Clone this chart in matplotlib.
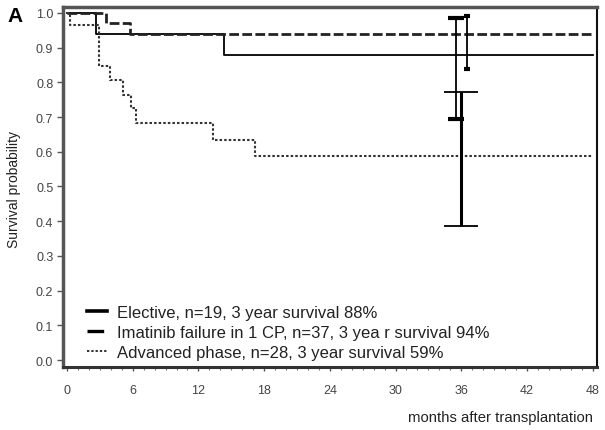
import matplotlib
matplotlib.use("Agg")
import matplotlib.pyplot as plt
from matplotlib.ticker import MultipleLocator
from matplotlib.lines import Line2D

plt.rcParams['font.family'] = ['Liberation Sans', 'DejaVu Sans']

# ---- data ----
groups = ["Elective, n=19, 3 year survival 88%",
          "Imatinib failure in 1 CP, n=37, 3 yea r survival 94%",
          "Advanced phase, n=28, 3 year survival 59%"]

elective_t = [0, 2.65, 14.3, 48]
elective_s = [1.0, 0.94, 0.88, 0.88]

imatinib_t = [0, 3.6, 5.75, 48]
imatinib_s = [1.0, 0.97, 0.94, 0.94]

advanced_t = [0, 0.3, 2.9, 3.9, 5.1, 5.8, 6.3, 13.3, 17.2, 48]
advanced_s = [1.0, 0.965, 0.848, 0.808, 0.764, 0.726, 0.683, 0.635, 0.588, 0.588]

# 3-year survival with confidence intervals
ci_x = [35.5, 36.5, 36.0]
ci_center = [0.88, 0.94, 0.59]
ci_low = [0.693, 0.838, 0.386]
ci_high = [0.985, 0.99, 0.773]

x_ticks = [0, 6, 12, 18, 24, 30, 36, 42, 48]
y_ticks = [0.0, 0.1, 0.2, 0.3, 0.4, 0.5, 0.6, 0.7, 0.8, 0.9, 1.0]

# ---- figure ----
fig = plt.figure(figsize=(6.05, 4.31), dpi=100)
ax = fig.add_axes([63/605, 1-368/431, (597-63)/605, (368-8)/431])

l1, = ax.step(elective_t, elective_s, where='post', color='black', lw=1.3)
l2, = ax.step(imatinib_t, imatinib_s, where='post', color='#222222', lw=2.0,
              linestyle=(0, (3.5, 1.2)))
l3, = ax.step(advanced_t, advanced_s, where='post', color='#333333', lw=1.5,
              linestyle=(0, (1.2, 1.0)))

cap_sizes = [6.1, 2.5, 12.2]
cap_thick = [3.0, 3.0, 1.3]
bar_lw = [1.3, 1.3, 2.2]
for i in range(3):
    ax.errorbar([ci_x[i]], [ci_center[i]],
                yerr=[[ci_center[i] - ci_low[i]], [ci_high[i] - ci_center[i]]],
                fmt='none', ecolor='black', elinewidth=bar_lw[i],
                capsize=cap_sizes[i], capthick=cap_thick[i])

ax.set_xlim(-0.37, 48.4)
ax.set_ylim(-0.02, 1.017)
ax.set_xticks(x_ticks)
ax.set_xticklabels([str(v) for v in x_ticks])
ax.set_yticks(y_ticks)
ax.set_yticklabels([f"{v:.1f}" for v in y_ticks])
ax.xaxis.set_minor_locator(MultipleLocator(1))

ax.tick_params(axis='x', which='major', length=3, width=1, pad=9,
               labelsize=9, labelcolor='#444444', color='#555555')
ax.tick_params(axis='x', which='minor', length=2.5, width=0.8, color='#777777')
ax.tick_params(axis='y', which='major', length=4, width=1, pad=3,
               labelsize=9, labelcolor='#444444', color='#555555')

for side, lw, col in [('left', 2.5, '#555555'), ('top', 2.5, '#555555'),
                      ('right', 1.5, '#111111'), ('bottom', 2.2, '#333333')]:
    ax.spines[side].set_linewidth(lw)
    ax.spines[side].set_color(col)

ax.set_xlabel("months after transplantation", fontsize=10.7,
              labelpad=10, color='#222222')
ax.xaxis.set_label_coords((593-63)/534, -0.12)
ax.xaxis.label.set_horizontalalignment('right')
ax.set_ylabel("Survival probability", fontsize=10, color='#222222')
ax.yaxis.set_label_coords(-0.078, 0.497)

h1 = Line2D([], [], color='black', lw=2.6)
h2 = Line2D([], [], color='black', lw=2.4, linestyle=(0, (5, 1)))
h3 = Line2D([], [], color='#333333', lw=1.4, linestyle=(0, (1.2, 1.0)))
leg = ax.legend([h1, h2, h3], groups, loc='upper left',
                bbox_to_anchor=(87/605, 1-306/431), bbox_transform=fig.transFigure,
                frameon=False, fontsize=12, handlelength=1.2, handletextpad=0.6,
                labelspacing=0.3, borderpad=0, borderaxespad=0)
for t in leg.get_texts():
    t.set_color('#222222')

fig.text(15.5/605, 1-16/431, "A", fontsize=15, fontweight='bold',
         ha='center', va='center')

fig.savefig("out.png", dpi=100)
